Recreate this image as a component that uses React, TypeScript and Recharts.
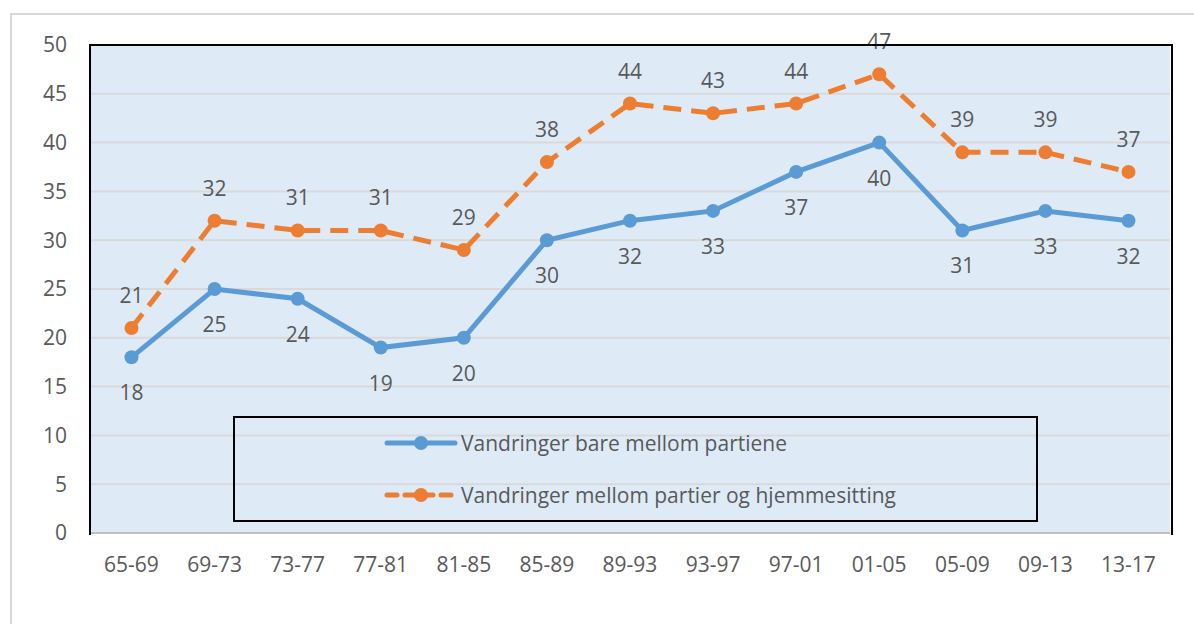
import React from "react";
import {
  LineChart,
  Line,
  XAxis,
  YAxis,
  CartesianGrid,
  LabelList,
} from "recharts";

const periods = [
  "65-69", "69-73", "73-77", "77-81", "81-85", "85-89", "89-93",
  "93-97", "97-01", "01-05", "05-09", "09-13", "13-17",
];
const bareMellomPartiene = [18, 25, 24, 19, 20, 30, 32, 33, 37, 40, 31, 33, 32];
const medHjemmesitting = [21, 32, 31, 31, 29, 38, 44, 43, 44, 47, 39, 39, 37];
const yTicks = [0, 5, 10, 15, 20, 25, 30, 35, 40, 45, 50];

const BLUE = "#5b9bd5";
const ORANGE = "#ed7d31";
const TEXT = "#595959";
const FONT = "'Open Sans', 'Noto Sans', sans-serif";
const FS = 21;

const data = periods.map((p, i) => ({
  period: p,
  bare: bareMellomPartiene[i],
  hjemme: medHjemmesitting[i],
}));

function makeLabel(dy: number) {
  return (props: any) => {
    const { x, y, value } = props;
    return (
      <text
        x={x}
        y={y + dy}
        textAnchor="middle"
        dominantBaseline="central"
        fill={TEXT}
        fontSize={FS}
        fontFamily={FONT}
      >
        {value}
      </text>
    );
  };
}

function LegendBox() {
  const items = [
    { label: "Vandringer bare mellom partiene", color: BLUE, dash: undefined as string | undefined },
    { label: "Vandringer mellom partier og hjemmesitting", color: ORANGE, dash: "10 8" },
  ];
  return (
    <div
      style={{
        position: "absolute",
        left: 233,
        top: 416,
        width: 801,
        height: 102,
        border: "2px solid #000",
        fontFamily: FONT,
      }}
    >
      {items.map((it, i) => (
        <div
          key={it.label}
          style={{
            position: "absolute",
            left: 148,
            top: 10 + i * 52,
            height: 30,
            display: "flex",
            alignItems: "center",
            whiteSpace: "nowrap",
          }}
        >
          <svg width={76} height={20}>
            <line
              x1={4}
              x2={72}
              y1={10}
              y2={10}
              stroke={it.color}
              strokeWidth={5}
              strokeLinecap="round"
              strokeDasharray={it.dash}
            />
            <circle cx={38} cy={10} r={7} fill={it.color} />
          </svg>
          <span style={{ fontSize: FS, color: TEXT, marginLeft: 2 }}>{it.label}</span>
        </div>
      ))}
    </div>
  );
}

export default function App() {
  return (
    <div
      style={{
        position: "absolute",
        left: 0,
        top: 0,
        width: 1194,
        height: 624,
        background: "#fff",
        overflow: "hidden",
      }}
    >
      <div
        style={{
          position: "absolute",
          left: 10,
          top: 13,
          width: 1300,
          height: 700,
          border: "2px solid #d9d9d9",
        }}
      />
      <div style={{ position: "absolute", left: 0, top: 0 }}>
        <LineChart
          width={1194}
          height={624}
          data={data}
          margin={{ top: 45, right: 24, bottom: 0, left: 0 }}
        >
          <CartesianGrid
            vertical={false}
            stroke="#d9d9d9"
            strokeWidth={2}
            fill="#deebf7"
            fillOpacity={1}
          />
          <XAxis
            dataKey="period"
            height={91}
            tickLine={false}
            axisLine={{ stroke: "#bfbfbf", strokeWidth: 2 }}
            tick={{ fill: TEXT, fontSize: FS, fontFamily: FONT }}
            tickMargin={18}
            interval={0}
            padding={{ left: 41.5, right: 41.5 }}
          />
          <YAxis
            width={90}
            domain={[0, 50]}
            ticks={yTicks}
            tickLine={false}
            axisLine={{ stroke: "#000", strokeWidth: 2 }}
            tick={{ fill: TEXT, fontSize: FS, fontFamily: FONT }}
            tickMargin={17}
          />
          <Line
            dataKey="bare"
            stroke={BLUE}
            strokeWidth={5}
            dot={{ r: 7, fill: BLUE, stroke: BLUE, strokeWidth: 0 }}
            isAnimationActive={false}
          >
            <LabelList dataKey="bare" content={makeLabel(35)} />
          </Line>
          <Line
            dataKey="hjemme"
            stroke={ORANGE}
            strokeWidth={5}
            strokeDasharray="18 10"
            dot={{ r: 7, fill: ORANGE, stroke: ORANGE, strokeWidth: 0 }}
            isAnimationActive={false}
          >
            <LabelList dataKey="hjemme" content={makeLabel(-33)} />
          </Line>
        </LineChart>
      </div>
      {/* plot-area border: black on left, top and right */}
      <div
        style={{
          position: "absolute",
          left: 89,
          top: 44,
          width: 1080,
          height: 489,
          borderLeft: "2px solid #000",
          borderTop: "2px solid #000",
          borderRight: "2px solid #000",
          pointerEvents: "none",
        }}
      />
      <LegendBox />
    </div>
  );
}
